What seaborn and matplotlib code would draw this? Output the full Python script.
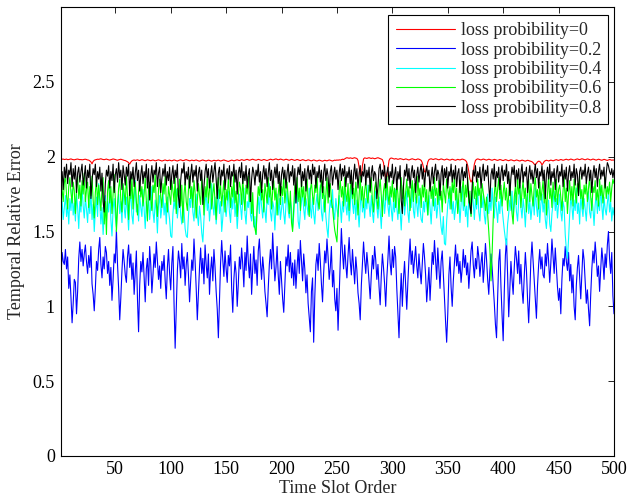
import numpy as np
import pandas as pd
import matplotlib
matplotlib.use("Agg")
import matplotlib.pyplot as plt
import seaborn as sns

series_labels = ["loss probibility=0", "loss probibility=0.2", "loss probibility=0.4",
                 "loss probibility=0.6", "loss probibility=0.8"]
series_colors = ["#ff0000", "#0000ff", "#00ffff", "#00ff00", "#000000"]

x_ticks = [50, 100, 150, 200, 250, 300, 350, 400, 450, 500]
y_ticks = [0, 0.5, 1, 1.5, 2, 2.5]
y_tick_labels = ["0", "0.5", "1", "1.5", "2", "2.5"]

err_p0 = [
1.985,1.983,1.984,1.981,1.982,1.984,1.980,1.981,1.983,1.985,1.982,1.980,1.979,1.981,1.983,1.984,1.982,1.980,1.981,1.979,
1.980,1.982,1.983,1.981,1.978,1.977,1.972,1.965,1.952,1.968,1.976,1.979,1.981,1.983,1.982,1.984,1.986,1.983,1.981,1.980,
1.982,1.984,1.981,1.979,1.977,1.980,1.982,1.985,1.983,1.981,1.978,1.976,1.979,1.981,1.983,1.980,1.978,1.975,1.974,1.970,
1.966,1.960,1.950,1.964,1.972,1.976,1.978,1.975,1.977,1.979,1.976,1.974,1.977,1.980,1.978,1.975,1.973,1.976,1.979,1.977,
1.975,1.973,1.976,1.978,1.975,1.972,1.974,1.977,1.979,1.976,1.974,1.971,1.973,1.976,1.978,1.975,1.973,1.975,1.977,1.974,
1.972,1.975,1.978,1.976,1.973,1.971,1.974,1.977,1.979,1.976,1.973,1.975,1.978,1.980,1.977,1.975,1.972,1.974,1.977,1.975,
1.973,1.976,1.978,1.975,1.972,1.970,1.973,1.976,1.978,1.975,1.973,1.971,1.974,1.977,1.975,1.972,1.970,1.973,1.976,1.974,
1.972,1.975,1.977,1.974,1.971,1.973,1.976,1.978,1.975,1.973,1.970,1.968,1.971,1.974,1.977,1.975,1.972,1.974,1.977,1.979,
1.976,1.974,1.977,1.980,1.978,1.975,1.977,1.980,1.982,1.979,1.976,1.978,1.981,1.983,1.980,1.978,1.976,1.979,1.982,1.980,
1.977,1.975,1.978,1.981,1.979,1.976,1.974,1.977,1.980,1.983,1.981,1.978,1.980,1.983,1.985,1.982,1.979,1.981,1.984,1.982,
1.979,1.977,1.980,1.983,1.981,1.978,1.976,1.979,1.982,1.980,1.977,1.975,1.978,1.981,1.979,1.976,1.974,1.977,1.980,1.978,
1.975,1.973,1.976,1.979,1.977,1.974,1.972,1.975,1.978,1.976,1.973,1.971,1.974,1.977,1.975,1.972,1.970,1.973,1.976,1.974,
1.972,1.975,1.978,1.976,1.973,1.971,1.974,1.977,1.975,1.978,1.976,1.979,1.977,1.980,1.983,1.981,1.985,1.990,1.993,1.991,
1.989,1.992,1.990,1.988,1.991,1.993,1.990,1.988,1.975,1.930,1.875,1.868,1.940,1.985,1.992,1.990,1.988,1.991,1.993,1.990,
1.988,1.991,1.989,1.986,1.988,1.991,1.993,1.990,1.987,1.984,1.980,1.960,1.900,1.862,1.865,1.920,1.975,1.988,1.991,1.989,
1.986,1.984,1.987,1.985,1.982,1.984,1.987,1.985,1.983,1.980,1.982,1.985,1.983,1.980,1.978,1.981,1.984,1.986,1.983,1.981,
1.979,1.982,1.985,1.983,1.980,1.975,1.960,1.930,1.900,1.895,1.930,1.965,1.980,1.984,1.986,1.983,1.981,1.984,1.986,1.984,
1.981,1.979,1.982,1.985,1.983,1.980,1.978,1.981,1.984,1.982,1.979,1.977,1.980,1.983,1.981,1.978,1.976,1.979,1.982,1.980,
1.978,1.981,1.984,1.982,1.979,1.975,1.965,1.940,1.900,1.850,1.830,1.845,1.900,1.950,1.975,1.982,1.985,1.983,1.980,1.978,
1.981,1.984,1.982,1.979,1.977,1.980,1.983,1.981,1.978,1.976,1.979,1.982,1.980,1.977,1.975,1.978,1.981,1.979,1.976,1.974,
1.977,1.980,1.978,1.975,1.973,1.976,1.979,1.977,1.974,1.972,1.975,1.978,1.976,1.973,1.971,1.974,1.977,1.975,1.972,1.970,
1.973,1.976,1.974,1.971,1.969,1.966,1.960,1.950,1.945,1.955,1.965,1.970,1.968,1.960,1.945,1.955,1.968,1.973,1.976,1.974,
1.971,1.974,1.977,1.975,1.972,1.975,1.978,1.980,1.977,1.975,1.978,1.981,1.979,1.976,1.978,1.981,1.983,1.980,1.978,1.981,
1.984,1.982,1.979,1.977,1.980,1.983,1.985,1.982,1.980,1.983,1.986,1.984,1.981,1.979,1.982,1.985,1.983,1.980,1.978,1.981,
1.984,1.982,1.979,1.977,1.980,1.983,1.981,1.978,1.976,1.979,1.982,1.980,1.977,1.975,1.978,1.981,1.979,1.976,1.978,1.977,
]

err_p02 = [
1.20,1.36,1.30,1.28,1.38,1.25,1.33,1.12,1.21,1.06,0.89,1.02,1.18,1.16,0.95,1.10,1.32,1.43,1.30,1.38,1.27,1.35,1.41,1.30,1.22,
1.34,1.26,1.40,1.15,1.08,0.97,1.12,1.30,1.24,1.38,1.46,1.28,1.19,1.33,1.25,1.40,1.36,1.22,1.30,1.14,1.26,1.04,1.18,1.35,1.29,
1.51,1.28,1.12,0.91,1.06,1.24,1.38,1.30,1.21,1.16,1.33,1.41,1.26,1.35,1.18,1.29,1.08,1.22,1.37,1.05,0.83,1.14,1.30,1.23,1.36,
1.19,1.03,1.25,1.32,1.14,1.40,1.28,1.09,1.21,1.35,1.26,1.43,1.31,1.18,1.27,1.12,1.30,1.24,1.34,1.17,1.05,1.26,1.38,1.22,1.11,
1.29,1.40,1.02,0.72,0.98,1.24,1.37,1.30,1.19,1.42,1.25,1.33,1.14,1.28,1.36,1.21,1.03,1.17,1.31,1.24,1.45,1.30,1.12,0.91,1.08,
1.26,1.39,1.22,1.32,1.15,1.41,1.28,1.19,1.35,1.08,1.24,1.33,1.17,1.38,1.26,1.10,0.98,0.79,1.05,1.29,1.44,1.31,1.20,1.37,1.25,
1.16,1.34,1.27,1.41,1.12,0.96,1.18,1.30,1.22,1.00,1.15,1.33,1.25,1.39,1.28,1.13,1.36,1.24,1.47,1.30,1.19,1.35,1.08,1.26,1.40,
1.22,1.31,1.14,1.37,1.45,1.29,1.18,1.33,1.24,1.10,1.02,0.93,1.12,1.28,1.38,1.25,1.49,1.32,1.17,1.26,1.40,1.21,1.08,1.30,1.18,
1.05,0.96,1.15,1.33,1.27,1.41,1.23,1.36,1.19,1.29,1.14,1.31,1.12,1.26,1.38,1.22,1.44,1.30,1.17,1.35,1.25,1.09,1.21,1.02,0.92,
0.83,1.10,1.19,0.76,1.06,1.28,1.35,1.24,1.42,1.30,1.15,1.03,1.22,1.37,1.29,1.45,1.33,1.18,1.26,1.40,1.13,1.24,1.05,0.97,1.12,
0.84,1.08,1.30,1.52,1.36,1.25,1.41,1.28,1.19,1.34,1.46,1.30,1.21,1.38,1.27,1.15,1.33,1.24,1.09,1.02,0.91,1.14,1.29,1.43,1.31,
1.22,1.36,1.27,1.16,1.05,1.21,1.34,1.25,1.40,1.31,1.18,1.28,1.13,1.01,1.20,1.35,1.26,1.15,1.00,1.19,1.32,1.47,1.29,1.21,1.38,
1.26,1.40,1.33,1.12,0.95,0.79,1.04,1.22,1.00,1.18,1.30,1.14,0.98,1.16,1.32,1.45,1.28,1.37,1.22,1.31,1.40,1.27,1.19,1.35,1.24,
1.15,1.29,1.42,1.33,1.21,1.03,1.14,1.26,1.04,1.20,1.36,1.28,1.44,1.31,1.18,1.39,1.25,1.12,1.30,1.37,1.22,1.06,0.90,0.76,0.95,
1.21,1.33,1.13,1.00,1.17,1.29,1.41,1.27,1.35,1.22,1.30,1.16,1.25,1.38,1.26,1.34,1.21,1.29,1.12,1.24,1.37,1.43,1.28,1.19,1.32,
1.25,1.40,1.33,1.20,1.29,1.36,1.16,1.27,1.42,1.31,1.18,1.08,1.24,1.35,1.26,1.14,1.02,0.88,0.79,1.06,1.30,1.38,1.13,0.94,0.77,
1.10,1.34,1.45,1.21,0.93,1.12,1.30,1.18,1.08,1.26,1.40,1.32,1.22,1.37,1.15,1.28,1.11,1.02,1.20,1.36,1.24,1.05,0.89,1.08,1.31,
1.43,1.30,1.16,1.03,0.92,1.14,1.28,1.38,1.25,1.33,1.21,1.19,1.35,1.27,1.42,1.30,1.16,1.29,1.45,1.34,1.22,1.39,1.26,1.13,1.04,
1.12,0.95,1.18,1.32,1.27,1.40,1.30,1.24,1.36,1.17,1.28,1.09,1.21,1.00,0.91,1.14,1.26,1.34,1.19,1.05,1.22,1.38,1.31,1.16,1.02,
1.11,0.98,0.87,1.08,1.25,1.37,1.29,1.43,1.33,1.20,1.27,1.10,1.24,1.39,1.30,1.18,1.35,1.26,1.41,1.50,1.32,1.22,1.36,1.07,0.95,
]

err_p04 = [
1.62,1.70,1.58,1.66,1.74,1.60,1.68,1.55,1.72,1.64,1.78,1.61,1.69,1.57,1.75,1.66,1.52,1.70,1.63,1.80,1.67,1.59,1.73,1.65,1.56,
1.71,1.62,1.77,1.58,1.68,1.50,1.64,1.73,1.60,1.82,1.69,1.55,1.66,1.48,1.61,1.74,1.57,1.70,1.63,1.79,1.58,1.47,1.65,1.72,1.60,
1.53,1.68,1.75,1.62,1.70,1.56,1.81,1.66,1.59,1.73,1.64,1.51,1.69,1.76,1.61,1.55,1.72,1.84,1.63,1.68,1.57,1.74,1.66,1.60,1.78,
1.65,1.52,1.70,1.62,1.75,1.58,1.67,1.80,1.63,1.56,1.71,1.64,1.49,1.68,1.74,1.59,1.66,1.77,1.61,1.69,1.55,1.73,1.64,1.58,1.47,
1.46,1.62,1.71,1.65,1.78,1.59,1.68,1.74,1.61,1.55,1.70,1.64,1.52,1.47,1.46,1.60,1.72,1.66,1.79,1.63,1.57,1.70,1.75,1.62,1.54,
1.67,1.60,1.49,1.43,1.58,1.69,1.76,1.64,1.71,1.57,1.66,1.82,1.68,1.61,1.73,1.55,1.65,1.78,1.62,1.70,1.50,1.59,1.74,1.66,1.60,
1.69,1.77,1.63,1.56,1.72,1.65,1.81,1.60,1.68,1.52,1.64,1.75,1.67,1.58,1.71,1.79,1.62,1.55,1.70,1.66,1.76,1.61,1.57,1.68,1.53,
1.60,1.48,1.65,1.73,1.62,1.78,1.67,1.59,1.71,1.64,1.56,1.74,1.68,1.82,1.63,1.57,1.70,1.66,1.51,1.69,1.75,1.61,1.72,1.58,1.65,
1.73,1.62,1.55,1.68,1.77,1.64,1.59,1.71,1.66,1.52,1.61,1.74,1.69,1.80,1.57,1.52,1.63,1.70,1.76,1.65,1.58,1.72,1.67,1.61,1.79,
1.66,1.59,1.73,1.62,1.55,1.68,1.75,1.64,1.70,1.81,1.63,1.57,1.69,1.74,1.60,1.52,1.46,1.62,1.71,1.66,1.78,1.63,1.58,1.72,1.65,
1.60,1.74,1.67,1.56,1.70,1.63,1.79,1.68,1.61,1.73,1.57,1.66,1.84,1.69,1.62,1.75,1.58,1.71,1.64,1.53,1.67,1.76,1.63,1.70,1.59,
1.72,1.65,1.81,1.68,1.60,1.74,1.63,1.56,1.69,1.77,1.66,1.59,1.73,1.64,1.52,1.68,1.75,1.62,1.71,1.80,1.67,1.60,1.74,1.65,1.57,
1.70,1.63,1.78,1.66,1.58,1.72,1.64,1.51,1.67,1.74,1.61,1.69,1.77,1.63,1.56,1.71,1.66,1.82,1.64,1.59,1.73,1.68,1.60,1.75,1.65,
1.58,1.56,1.70,1.63,1.76,1.67,1.61,1.74,1.66,1.55,1.69,1.78,1.64,1.72,1.59,1.67,1.75,1.62,1.53,1.48,1.60,1.42,1.41,1.57,1.68,
1.74,1.65,1.79,1.62,1.70,1.58,1.66,1.75,1.63,1.71,1.56,1.68,1.80,1.64,1.72,1.60,1.67,1.53,1.74,1.66,1.61,1.77,1.69,1.58,1.72,
1.65,1.78,1.63,1.57,1.70,1.66,1.74,1.61,1.55,1.68,1.75,1.62,1.71,1.64,1.79,1.67,1.59,1.73,1.65,1.56,1.70,1.62,1.76,1.66,1.58,
1.51,1.45,1.41,1.55,1.62,1.71,1.64,1.77,1.60,1.68,1.74,1.63,1.57,1.70,1.81,1.66,1.59,1.72,1.65,1.53,1.69,1.76,1.62,1.71,1.58,
1.66,1.73,1.61,1.79,1.67,1.60,1.74,1.56,1.68,1.75,1.63,1.70,1.58,1.52,1.64,1.71,1.55,1.50,1.62,1.69,1.77,1.64,1.72,1.59,1.68,
1.75,1.63,1.57,1.70,1.66,1.48,1.38,1.32,1.45,1.61,1.73,1.67,1.58,1.71,1.64,1.79,1.62,1.69,1.55,1.74,1.66,1.60,1.72,1.65,1.57,
1.70,1.77,1.63,1.59,1.72,1.66,1.54,1.68,1.75,1.62,1.71,1.64,1.80,1.67,1.58,1.73,1.65,1.61,1.69,1.76,1.63,1.70,1.57,1.66,1.61,
]

err_p06 = [
1.85,1.78,1.70,1.82,1.88,1.74,1.65,1.80,1.86,1.76,1.69,1.83,1.77,1.62,1.79,1.87,1.72,1.81,1.67,1.84,1.75,1.89,1.70,1.78,1.83,
1.66,1.80,1.74,1.87,1.71,1.59,1.76,1.85,1.68,1.81,1.73,1.64,1.79,1.86,1.55,1.70,1.48,1.77,1.84,1.69,1.80,1.62,1.75,1.88,1.72,
1.50,1.66,1.79,1.85,1.71,1.63,1.82,1.76,1.68,1.87,1.74,1.58,1.80,1.72,1.86,1.65,1.78,1.83,1.70,1.61,1.77,1.84,1.73,1.80,1.67,
1.75,1.86,1.70,1.57,1.79,1.83,1.72,1.64,1.81,1.76,1.88,1.69,1.60,1.78,1.85,1.73,1.66,1.82,1.75,1.87,1.71,1.63,1.80,1.74,1.68,
1.84,1.77,1.70,1.86,1.62,1.79,1.73,1.85,1.67,1.81,1.56,1.75,1.83,1.70,1.64,1.78,1.87,1.72,1.80,1.66,1.84,1.76,1.59,1.71,1.82,
1.74,1.68,1.85,1.77,1.61,1.80,1.73,1.87,1.69,1.78,1.84,1.65,1.75,1.82,1.70,1.58,1.79,1.86,1.72,1.81,1.67,1.76,1.84,1.63,1.78,
1.71,1.85,1.76,1.66,1.80,1.73,1.88,1.69,1.77,1.60,1.74,1.83,1.79,1.68,1.86,1.72,1.64,1.81,1.75,1.87,1.70,1.78,1.62,1.76,1.55,
1.52,1.48,1.67,1.80,1.74,1.85,1.71,1.78,1.63,1.82,1.76,1.69,1.86,1.73,1.80,1.65,1.77,1.84,1.71,1.79,1.61,1.75,1.83,1.68,1.80,
1.74,1.87,1.69,1.78,1.83,1.72,1.62,1.77,1.56,1.50,1.66,1.81,1.75,1.86,1.70,1.79,1.64,1.84,1.73,1.80,1.67,1.76,1.85,1.71,1.60,
1.78,1.83,1.74,1.68,1.81,1.76,1.87,1.70,1.65,1.79,1.84,1.72,1.80,1.63,1.75,1.86,1.69,1.78,1.82,1.71,1.66,1.58,1.51,1.47,1.43,
1.62,1.77,1.84,1.73,1.80,1.67,1.86,1.75,1.70,1.82,1.64,1.78,1.85,1.72,1.79,1.68,1.83,1.76,1.61,1.74,1.87,1.71,1.80,1.66,1.77,
1.84,1.73,1.69,1.81,1.76,1.86,1.70,1.63,1.79,1.83,1.72,1.65,1.78,1.85,1.74,1.60,1.77,1.82,1.71,1.87,1.75,1.68,1.80,1.73,1.84,
1.70,1.79,1.66,1.83,1.75,1.62,1.78,1.86,1.72,1.81,1.67,1.76,1.85,1.73,1.80,1.64,1.77,1.84,1.70,1.82,1.75,1.69,1.87,1.74,1.79,
1.66,1.81,1.73,1.85,1.70,1.78,1.61,1.76,1.83,1.72,1.80,1.67,1.86,1.74,1.79,1.68,1.84,1.71,1.77,1.63,1.82,1.75,1.69,1.85,1.78,
1.72,1.80,1.65,1.83,1.76,1.87,1.71,1.79,1.62,1.74,1.84,1.70,1.78,1.85,1.67,1.81,1.73,1.86,1.69,1.77,1.60,1.75,1.83,1.72,1.80,
1.68,1.85,1.74,1.79,1.66,1.82,1.76,1.71,1.64,1.73,1.62,1.50,1.38,1.17,1.35,1.58,1.75,1.84,1.70,1.78,1.86,1.72,1.81,1.67,1.76,
1.83,1.71,1.79,1.64,1.74,1.85,1.70,1.62,1.55,1.73,1.80,1.68,1.86,1.75,1.81,1.66,1.77,1.84,1.72,1.79,1.63,1.76,1.85,1.70,1.82,
1.74,1.67,1.80,1.86,1.73,1.78,1.65,1.83,1.71,1.77,1.84,1.69,1.80,1.61,1.75,1.87,1.72,1.79,1.66,1.83,1.74,1.70,1.85,1.68,1.78,
1.81,1.73,1.64,1.77,1.86,1.70,1.79,1.62,1.75,1.84,1.71,1.80,1.67,1.85,1.76,1.69,1.82,1.74,1.87,1.72,1.78,1.65,1.81,1.75,1.83,
1.70,1.79,1.86,1.73,1.64,1.80,1.76,1.84,1.71,1.78,1.67,1.85,1.74,1.81,1.69,1.77,1.86,1.72,1.80,1.75,1.83,1.70,1.79,1.85,1.82,
]

err_p08 = [
1.84,1.90,1.78,1.93,1.86,1.95,1.82,1.91,1.88,1.96,1.80,1.92,1.85,1.94,1.76,1.89,1.93,1.83,1.90,1.95,1.81,1.87,1.94,1.79,1.91,
1.86,1.95,1.72,1.84,1.92,1.88,1.95,1.80,1.90,1.85,1.93,1.77,1.89,1.70,1.63,1.82,1.91,1.87,1.94,1.79,1.90,1.84,1.95,1.76,1.88,
1.92,1.83,1.96,1.86,1.91,1.78,1.94,1.88,1.81,1.93,1.87,1.95,1.74,1.90,1.85,1.93,1.80,1.89,1.96,1.84,1.91,1.77,1.88,1.94,1.82,
1.90,1.86,1.95,1.79,1.92,1.71,1.87,1.94,1.83,1.91,1.88,1.96,1.80,1.89,1.93,1.76,1.85,1.92,1.87,1.95,1.81,1.90,1.84,1.93,1.78,
1.88,1.94,1.82,1.91,1.86,1.95,1.73,1.66,1.84,1.92,1.89,1.96,1.81,1.90,1.85,1.93,1.79,1.88,1.95,1.83,1.91,1.87,1.94,1.77,1.89,
1.93,1.84,1.91,1.68,1.80,1.90,1.95,1.86,1.92,1.79,1.88,1.94,1.83,1.90,1.96,1.85,1.72,1.89,1.93,1.81,1.91,1.87,1.95,1.78,1.88,
1.92,1.85,1.94,1.80,1.90,1.87,1.95,1.83,1.91,1.75,1.89,1.93,1.86,1.96,1.82,1.90,1.84,1.94,1.79,1.88,1.92,1.70,1.85,1.93,1.89,
1.81,1.91,1.87,1.95,1.83,1.90,1.76,1.88,1.94,1.85,1.92,1.80,1.89,1.96,1.84,1.91,1.78,1.87,1.93,1.86,1.95,1.82,1.90,1.74,1.88,
1.93,1.85,1.91,1.79,1.89,1.95,1.83,1.90,1.87,1.94,1.81,1.92,1.69,1.86,1.93,1.88,1.95,1.80,1.90,1.84,1.92,1.77,1.89,1.94,1.85,
1.91,1.82,1.95,1.88,1.93,1.79,1.90,1.86,1.94,1.83,1.91,1.76,1.89,1.95,1.84,1.92,1.87,1.73,1.90,1.94,1.81,1.88,1.93,1.85,1.91,
1.78,1.89,1.95,1.84,1.92,1.87,1.94,1.80,1.90,1.86,1.93,1.82,1.91,1.75,1.88,1.95,1.85,1.92,1.79,1.89,1.94,1.83,1.90,1.87,1.95,
1.81,1.91,1.86,1.93,1.77,1.89,1.94,1.84,1.90,1.88,1.72,1.80,1.92,1.95,1.85,1.91,1.87,1.94,1.79,1.89,1.93,1.83,1.90,1.86,1.95,
1.82,1.88,1.93,1.78,1.90,1.85,1.94,1.71,1.62,1.80,1.91,1.87,1.95,1.84,1.92,1.79,1.89,1.94,1.86,1.91,1.76,1.88,1.93,1.83,1.90,
1.95,1.85,1.92,1.80,1.89,1.94,1.87,1.91,1.77,1.86,1.93,1.82,1.90,1.95,1.84,1.91,1.88,1.74,1.89,1.94,1.81,1.92,1.86,1.93,1.79,
1.90,1.87,1.95,1.83,1.91,1.85,1.94,1.80,1.89,1.92,1.76,1.88,1.93,1.84,1.90,1.86,1.95,1.82,1.73,1.67,1.62,1.80,1.91,1.87,1.94,
1.83,1.90,1.86,1.93,1.79,1.89,1.95,1.84,1.91,1.87,1.94,1.81,1.70,1.88,1.92,1.85,1.95,1.80,1.90,1.86,1.93,1.78,1.89,1.94,1.84,
1.91,1.87,1.95,1.82,1.90,1.74,1.86,1.93,1.88,1.94,1.80,1.91,1.85,1.92,1.79,1.89,1.95,1.83,1.90,1.87,1.93,1.76,1.88,1.94,1.85,
1.91,1.82,1.89,1.95,1.86,1.92,1.79,1.90,1.87,1.94,1.84,1.91,1.72,1.88,1.93,1.85,1.95,1.81,1.90,1.86,1.92,1.78,1.89,1.94,1.83,
1.90,1.87,1.95,1.80,1.91,1.85,1.93,1.77,1.89,1.94,1.84,1.90,1.86,1.95,1.81,1.92,1.88,1.74,1.90,1.93,1.85,1.91,1.87,1.95,1.82,
1.89,1.93,1.84,1.91,1.76,1.88,1.94,1.86,1.92,1.80,1.90,1.95,1.85,1.91,1.87,1.93,1.79,1.89,1.96,1.94,1.90,1.88,1.92,1.86,1.91,
]

all_series = [err_p0, err_p02, err_p04, err_p06, err_p08]

frames = []
for lab, vals in zip(series_labels, all_series):
    frames.append(pd.DataFrame({"slot": np.arange(1, len(vals) + 1),
                                "error": vals, "series": lab}))
df = pd.concat(frames, ignore_index=True)

sns.set_style("white")
plt.rcParams["font.family"] = ["Liberation Serif", "DejaVu Serif"]
FS = 13

fig = plt.figure(figsize=(6.28, 5.0), dpi=100)
ax = fig.add_axes([61 / 628, 44 / 500, (614 - 61) / 628, (456 - 7) / 500])

sns.lineplot(data=df, x="slot", y="error", hue="series", hue_order=series_labels,
             palette=dict(zip(series_labels, series_colors)), estimator=None,
             sort=False, linewidth=0.8, ax=ax)

ax.set_xlim(1, 500)
ax.set_ylim(0, 3)
ax.set_xticks(x_ticks)
ax.set_xticklabels([str(t) for t in x_ticks])
ax.set_yticks(y_ticks)
ax.set_yticklabels(y_tick_labels)
ax.tick_params(direction="in", length=4, width=0.6, top=True, right=True,
               labelsize=FS, colors="black")
ax.tick_params(axis="y", pad=4.5)
ax.tick_params(axis="x", pad=3.5)
for sp in ax.spines.values():
    sp.set_visible(True)
    sp.set_color("black")
    sp.set_linewidth(0.8)

ax.set_xlabel("Time Slot Order", fontsize=FS, labelpad=1.5)
ax.set_ylabel("Temporal Relative Error", fontsize=FS, labelpad=5.5)

handles, labels = ax.get_legend_handles_labels()
leg = ax.legend(handles, labels, loc="upper right",
                bbox_to_anchor=((608 - 61) / (614 - 61), (456 - 15) / (456 - 7)),
                borderaxespad=0, frameon=True, fancybox=False, framealpha=1,
                edgecolor="black", fontsize=FS, handlelength=3.3,
                handletextpad=0.3, labelspacing=0.13, borderpad=0.4)
leg.get_frame().set_linewidth(0.8)
for h in leg.get_lines():
    h.set_linewidth(0.8)

fig.savefig("out.png", dpi=100, facecolor="white")

lens = [len(v) for v in all_series]
if any(n != 500 for n in lens):
    raise SystemExit("lengths: " + str(lens))
